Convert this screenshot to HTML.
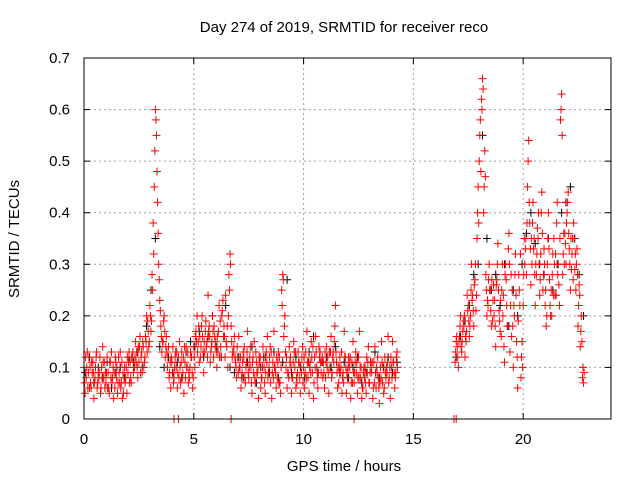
<!DOCTYPE html>
<html><head><meta charset="utf-8"><style>
body{margin:0;background:#fff}
svg{display:block;font-family:"Liberation Sans",sans-serif}
</style></head><body>
<svg id="chart" width="640" height="480">
<text x="344" y="32" font-size="15" text-anchor="middle">Day 274 of 2019, SRMTID for receiver reco</text>
<text x="344" y="471" font-size="15" text-anchor="middle">GPS time / hours</text>
<text transform="translate(19,239) rotate(-90)" font-size="15" text-anchor="middle">SRMTID / TECUs</text>
<g id="grid"></g><g id="ticks"></g><g id="marks"></g>
<rect x="84" y="58" width="527" height="361" fill="none" stroke="#000" stroke-width="1"/>
</svg>
<script>
const xTicks=[0,5,10,15,20];
const yTicks=[0,0.1,0.2,0.3,0.4,0.5,0.6,0.7];
const yTickLabels=["0","0.1","0.2","0.3","0.4","0.5","0.6","0.7"];
const seg1Start=0, seg2Start=16.9;
const redA1=[.10,.08,.09,.07,.11,.08,.06,.09,.10,.08,.07,.09,.11,.08,.06,.10,.09,.07,.05,.08,.09,.11,.12,.10,.13,.11,.12,.14,.16,.19,.22,.28,.45,.55,.30,.18,.15,.12,.10,.09,.11,.08,.10,.12,.07,.09,.11,.10,.08,.12,.14,.17,.15,.12,.16,.13,.15,.18,.14,.12,.15,.13,.19,.21,.16,.14,.28,.18,.13,.11,.12,.10,.09,.14,.11,.08,.10,.12,.07,.09,.11,.08,.10,.13,.09,.07,.11,.10,.08,.12,.25,.16,.10,.09,.12,.08,.10,.07,.11,.09,.10,.13,.08,.11,.09,.12,.10,.14,.09,.11,.08,.12,.10,.09,.15,.11,.07,.10,.09,.12,.08,.10,.11,.07,.09,.12,.08,.06,.10,.09,.07,.09,.11,.06,.08,.10,.07,.12,.09,.08,.10,.11,.09];
const redB1=[.05,.13,.06,.11,.04,.12,.09,.05,.14,.06,.12,.05,.13,.04,.11,.07,.13,.04,.10,.05,.13,.07,.09,.15,.08,.16,.09,.11,.20,.14,.17,.38,.60,.42,.23,.13,.20,.16,.14,.06,.14,.12,.06,.15,.13,.05,.14,.07,.13,.06,.10,.20,.11,.18,.09,.19,.24,.11,.20,.16,.10,.22,.12,.16,.24,.10,.32,.12,.16,.08,.16,.06,.13,.07,.17,.12,.05,.15,.11,.04,.06,.14,.05,.16,.12,.04,.17,.06,.13,.05,.28,.20,.06,.14,.05,.15,.06,.13,.05,.14,.06,.17,.05,.15,.04,.16,.06,.13,.12,.06,.14,.05,.16,.13,.22,.06,.12,.05,.17,.05,.12,.04,.15,.11,.05,.17,.04,.10,.05,.14,.11,.04,.14,.09,.03,.15,.05,.08,.16,.04,.15,.06,.13];
const redC1=[.07,.10,.12,.06,.09,.10,.07,.12,.08,.11,.09,.06,.08,.10,.12,.05,.07,.11,.08,.10,.11,.08,.13,.12,.10,.14,.13,.10,.15,.17,.20,.25,.52,.48,.27,.16,.19,.14,.12,.11,.09,.10,.13,.08,.11,.12,.08,.13,.10,.09,.12,.15,.18,.14,.13,.17,.12,.16,.15,.18,.13,.17,.14,.23,.12,.18,.25,.15,.14,.10,.09,.12,.11,.08,.13,.10,.07,.09,.13,.10,.12,.10,.07,.11,.10,.13,.08,.09,.11,.07,.22,.18,.12,.08,.10,.11,.13,.09,.08,.12,.12,.08,.11,.09,.14,.10,.08,.12,.11,.09,.11,.09,.13,.12,.18,.09,.10,.13,.07,.10,.10,.12,.07,.09,.11,.08,.10,.09,.07,.11,.09,.11,.07,.10,.06,.08,.10,.09,.11,.10,.08,.09,.12];
const redD1=[.12,.06,.10,.09,.07,.13,.08,.06,.11,.09,.06,.11,.07,.09,.08,.12,.06,.09,.07,.12,.07,.12,.10,.11,.14,.09,.15,.12,.13,.15,.19,.32,.58,.36,.21,.15,.17,.13,.08,.12,.07,.13,.09,.10,.08,.14,.10,.09,.12,.08,.16,.13,.16,.20,.15,.14,.17,.13,.17,.14,.16,.12,.20,.18,.15,.20,.30,.13,.12,.14,.10,.08,.12,.10,.09,.14,.11,.08,.09,.12,.08,.12,.09,.08,.14,.09,.10,.12,.07,.10,.27,.13,.09,.11,.08,.13,.08,.11,.10,.07,.09,.11,.10,.12,.07,.13,.09,.11,.08,.13,.10,.13,.08,.11,.13,.10,.09,.08,.12,.09,.11,.07,.09,.13,.08,.10,.06,.08,.12,.07,.10,.06,.09,.12,.07,.11,.06,.10,.07,.12,.11,.08,.10];
const redA2=[.11,.14,.16,.13,.18,.15,.22,.20,.24,.27,.35,.50,.62,.40,.28,.22,.25,.19,.23,.27,.21,.16,.24,.30,.18,.13,.25,.20,.15,.28,.08,.22,.33,.45,.38,.30,.35,.28,.40,.32,.25,.22,.30,.27,.20,.35,.24,.30,.58,.28,.36,.40,.33,.29,.38,.25,.18,.14,.08];
const redB2=[.15,.10,.20,.17,.12,.24,.16,.30,.18,.21,.45,.58,.66,.52,.20,.30,.18,.26,.14,.34,.17,.30,.11,.22,.36,.28,.10,.32,.06,.22,.15,.35,.28,.54,.26,.42,.22,.37,.24,.44,.33,.18,.40,.20,.32,.24,.42,.22,.63,.36,.30,.44,.25,.35,.29,.33,.26,.20,.07];
const redC2=[.13,.12,.18,.15,.20,.17,.19,.25,.21,.30,.40,.55,.60,.45,.25,.27,.21,.23,.18,.30,.19,.25,.14,.27,.33,.22,.18,.28,.12,.25,.12,.28,.35,.50,.33,.38,.28,.32,.30,.40,.28,.25,.35,.22,.28,.30,.38,.26,.60,.32,.34,.42,.30,.32,.35,.30,.22,.17,.10];
const redD2=[.16,.15,.14,.19,.16,.21,.18,.23,.26,.24,.38,.48,.64,.47,.23,.25,.27,.20,.26,.25,.23,.20,.28,.18,.30,.16,.22,.24,.19,.32,.10,.30,.38,.42,.35,.33,.30,.35,.27,.36,.30,.20,.33,.25,.24,.32,.28,.35,.55,.30,.38,.36,.35,.27,.32,.28,.24,.15,.09];
const black1=[.09,.12,.07,.10,.08,.11,.06,.09,.10,.08,.12,.11,.13,.10,.18,.25,.35,.14,.10,.12,.09,.11,.08,.13,.15,.14,.17,.12,.16,.20,.14,.12,.22,.10,.09,.12,.08,.11,.14,.07,.10,.12,.09,.13,.08,.11,.27,.09,.12,.10,.08,.13,.16,.09,.11,.12,.10,.14,.09,.11,.08,.10,.12,.07,.09,.11,.13,.08,.10,.12,.09,.11];
const black2=[.12,.16,.19,.22,.28,.30,.55,.35,.25,.28,.22,.30,.18,.25,.20,.30,.36,.40,.34,.30,.28,.35,.25,.30,.40,.42,.45,.35,.28,.20];
const zeroTimes=[4.1,4.3,6.7,12.3,16.85,16.95];

const X=t=>84+t*(527/24), Y=v=>419-v*(361/0.7);
const NS="http://www.w3.org/2000/svg";
const grid=document.getElementById('grid'),ticks=document.getElementById('ticks'),marks=document.getElementById('marks');
function mk(tag,attrs,parent){const e=document.createElementNS(NS,tag);for(const k in attrs)e.setAttribute(k,attrs[k]);parent.appendChild(e);return e;}
yTicks.forEach((v,i)=>{
  if(i>0&&i<yTicks.length-1){const g=mk('line',{x1:84,x2:611,y1:Y(v),y2:Y(v),stroke:'#a0a0a0','stroke-dasharray':'2,3'},grid);
  
  }
  const t=mk('text',{x:70,y:Y(v)+5,'font-size':15,'text-anchor':'end'},ticks);t.textContent=yTickLabels[i];
  
  
  mk('line',{x1:84,x2:90,y1:Y(v),y2:Y(v),stroke:'#000'},ticks);
  mk('line',{x1:605,x2:611,y1:Y(v),y2:Y(v),stroke:'#000'},ticks);
});
xTicks.forEach(v=>{
  if(v>0){const g=mk('line',{x1:X(v),x2:X(v),y1:58,y2:419,stroke:'#a0a0a0','stroke-dasharray':'2,3'},grid);
  
  }
  const t=mk('text',{x:X(v),y:444,'font-size':15,'text-anchor':'middle'},ticks);t.textContent=String(v);
  
  
  mk('line',{x1:X(v),x2:X(v),y1:419,y2:413,stroke:'#000'},ticks);
  mk('line',{x1:X(v),x2:X(v),y1:58,y2:64,stroke:'#000'},ticks);
});
function plus(t,v,color,name){
  const x=X(t),y=Y(v);
  const p=mk('path',{d:`M${x-4},${y}h8M${x},${y-4}v8`,stroke:color,'stroke-width':1,fill:'none'},marks);
  
  
}
black1.forEach((v,i)=>plus(seg1Start+0.05+i*0.2,v,'#000','black-point'));
black2.forEach((v,i)=>plus(seg2Start+0.05+i*0.2,v,'#000','black-point'));
redA1.forEach((v,i)=>plus(seg1Start+i*0.1,v,'#f00','red-point'));
redB1.forEach((v,i)=>plus(seg1Start+0.05+i*0.1,v,'#f00','red-point'));
redC1.forEach((v,i)=>plus(seg1Start+0.025+i*0.1,v,'#f00','red-point'));
redD1.forEach((v,i)=>plus(seg1Start+0.075+i*0.1,v,'#f00','red-point'));
redA2.forEach((v,i)=>plus(seg2Start+i*0.1,v,'#f00','red-point'));
redB2.forEach((v,i)=>plus(seg2Start+0.05+i*0.1,v,'#f00','red-point'));
redC2.forEach((v,i)=>plus(seg2Start+0.025+i*0.1,v,'#f00','red-point'));
redD2.forEach((v,i)=>plus(seg2Start+0.075+i*0.1,v,'#f00','red-point'));
zeroTimes.forEach(t=>plus(t,0,'#f00','zero-point'));
</script>
</body></html>
